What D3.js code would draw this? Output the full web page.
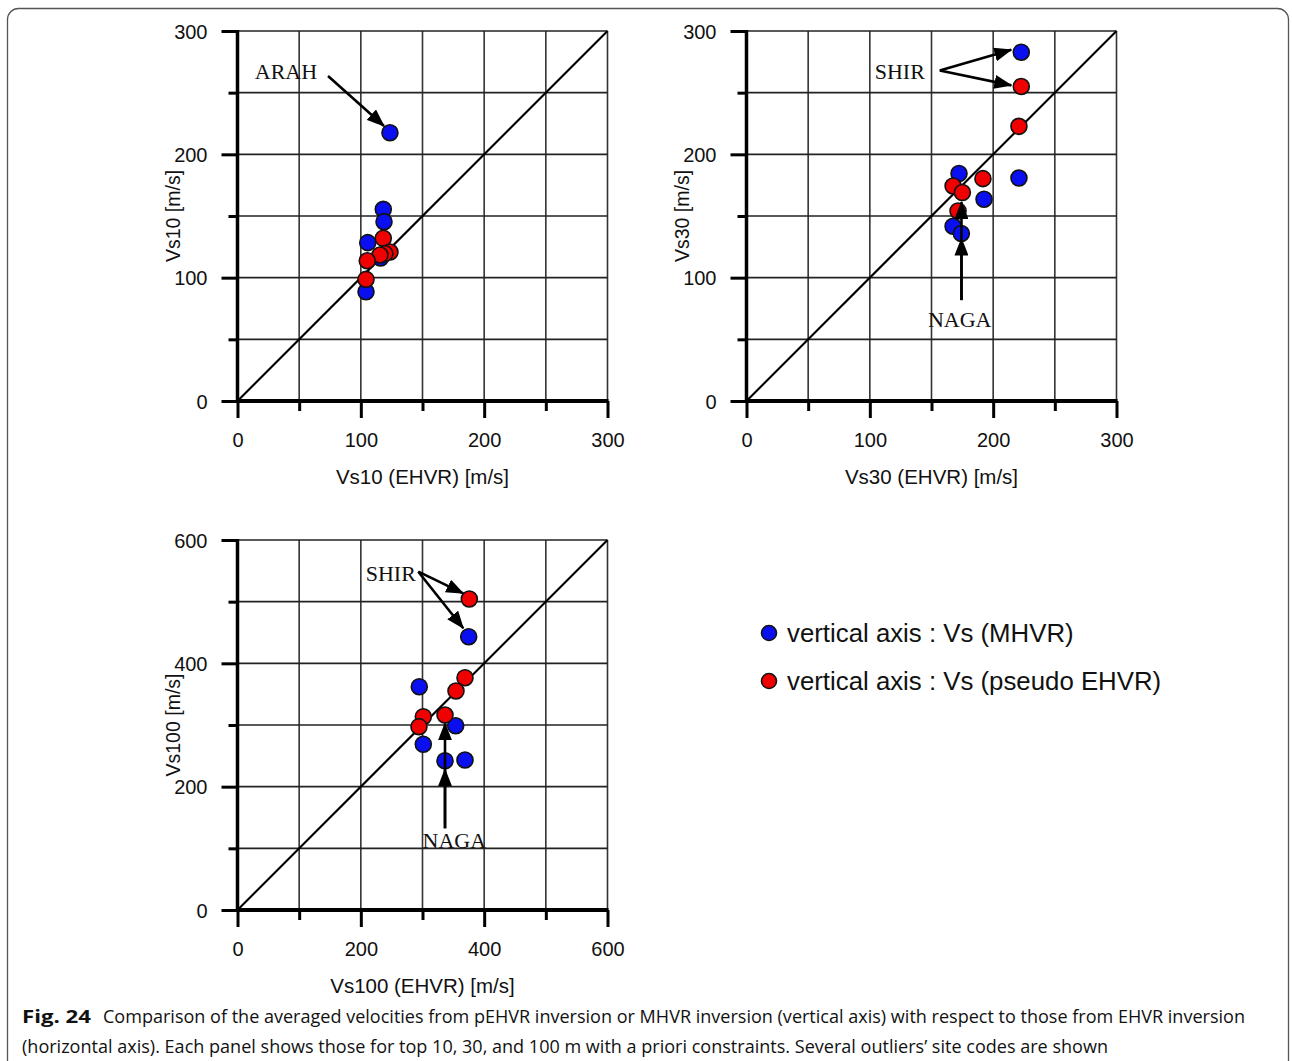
<!DOCTYPE html>
<html>
<head>
<meta charset="utf-8">
<script src="https://cdn.jsdelivr.net/npm/d3@7"></script>
<style>
  body { margin: 0; background: #fff; }
  text { fill: #111; }
</style>
</head>
<body>
<svg id="fig" width="1292" height="1061"></svg>
<script>
// values, pairs are [Vs from EHVR, Vs on vertical axis]
var vs10Mhvr   = [[123.6, 217.5], [118.2, 155.4], [118.8, 145.4], [105.6, 128.4], [116.0, 116.0], [104.2, 88.6]];
var vs10Pehvr  = [[118.2, 131.9], [123.6, 120.8], [119.5, 119.5], [115.5, 118.4], [105.2, 113.7], [104.2, 98.6]];
var vs30Mhvr   = [[222.8, 282.8], [220.9, 180.8], [172.3, 184.4], [192.6, 163.6], [167.5, 141.7], [174.2, 135.8]];
var vs30Pehvr  = [[222.8, 255.0], [220.9, 222.7], [191.7, 180.3], [167.5, 174.3], [175.0, 169.0], [171.5, 154.1]];
var vs100Mhvr  = [[374.9, 443.2], [294.8, 362.1], [353.8, 298.9], [301.3, 268.7], [336.5, 242.1], [368.9, 243.2]];
var vs100Pehvr = [[375.9, 504.3], [368.9, 376.7], [354.3, 355.1], [301.3, 313.5], [294.3, 297.3], [336.5, 316.2]];

// site code call-outs: label position, arrow start, arrow tips (data units)
var vs10Notes  = [{text: "ARAH", at: [39.3, 261], from: [73.4, 263.5], tips: [[118.8, 223]]}];
var vs30Notes  = [{text: "SHIR", at: [124.3, 261.3], from: [156.7, 268], tips: [[214.7, 284.8], [214.7, 255.9]]},
                  {text: "NAGA", at: [172.9, 60.2], from: [174.3, 81.8], tips: [[174.3, 131.7], [174.3, 161.4]]}];
var vs100Notes = [{text: "SHIR", at: [248.6, 534], from: [293.2, 548.6], tips: [[366.1, 513.5], [366.1, 456.8]]},
                  {text: "NAGA", at: [351.6, 100], from: [336.5, 132.5], tips: [[336.5, 228.2], [336.5, 302.7]]}];

var legendLabels = ["vertical axis : Vs (MHVR)", "vertical axis : Vs (pseudo EHVR)"];
var legendColors = ["#0a0ff0", "#f00000"];

var svg = d3.select("#fig");
var sans = "'Liberation Sans', Arial, sans-serif";

// frame of the figure
svg.append("rect")
  .attr("x", 7.5).attr("y", 8.5)
  .attr("width", 1281).attr("height", 1100)
  .attr("rx", 11)
  .attr("fill", "none")
  .attr("stroke", "#555")
  .attr("stroke-width", 1.3);

svg.append("defs").append("marker")
  .attr("id", "head")
  .attr("markerUnits", "userSpaceOnUse")
  .attr("markerWidth", 18).attr("markerHeight", 14)
  .attr("refX", 17).attr("refY", 7)
  .attr("orient", "auto")
  .append("path")
  .attr("d", "M0,0 L18,7 L0,14 Z")
  .attr("fill", "#000");

function drawPanel(p) {
  var x = d3.scaleLinear().domain([0, p.max]).range([p.left, p.left + p.size]);
  var y = d3.scaleLinear().domain([0, p.max]).range([p.top + p.size, p.top]);
  var g = svg.append("g");
  var ticks = d3.range(0, p.max + 1, p.step);

  // grid
  g.selectAll(".gx").data(ticks.slice(1)).enter().append("line")
    .attr("x1", function(d) { return x(d); }).attr("x2", function(d) { return x(d); })
    .attr("y1", y(0)).attr("y2", y(p.max))
    .attr("stroke", "#333").attr("stroke-width", 1.6);
  g.selectAll(".gy").data(ticks.slice(1)).enter().append("line")
    .attr("y1", function(d) { return y(d); }).attr("y2", function(d) { return y(d); })
    .attr("x1", x(0)).attr("x2", x(p.max))
    .attr("stroke", "#222").attr("stroke-width", 1.6);

  // axes with long ticks on labelled values
  var xAxis = d3.axisBottom(x).tickValues(ticks).tickFormat("").tickSize(0);
  var gx = g.append("g").attr("transform", "translate(0," + y(0) + ")").call(xAxis);
  gx.select(".domain").remove();
  gx.selectAll(".tick").append("line")
    .attr("y2", function(d) { return d % p.labelStep === 0 ? 17 : 10; })
    .attr("stroke", "#000").attr("stroke-width", 3);
  gx.selectAll(".tick").filter(function(d) { return d % p.labelStep === 0; })
    .append("text")
    .attr("y", 46).attr("text-anchor", "middle")
    .attr("font-family", sans).attr("font-size", 20).attr("fill", "#111")
    .text(function(d) { return d; });

  var yAxis = d3.axisLeft(y).tickValues(ticks).tickFormat("").tickSize(0);
  var gy = g.append("g").attr("transform", "translate(" + x(0) + ",0)").call(yAxis);
  gy.select(".domain").remove();
  gy.selectAll(".tick").append("line")
    .attr("x2", function(d) { return d % p.labelStep === 0 ? -16 : -9; })
    .attr("stroke", "#000").attr("stroke-width", 3);
  gy.selectAll(".tick").filter(function(d) { return d % p.labelStep === 0; })
    .append("text")
    .attr("x", -30).attr("dy", "0.36em").attr("text-anchor", "end")
    .attr("font-family", sans).attr("font-size", 20).attr("fill", "#111")
    .text(function(d) { return d; });

  g.append("line")
    .attr("x1", x(0)).attr("x2", x(p.max) + 1).attr("y1", y(0)).attr("y2", y(0))
    .attr("stroke", "#000").attr("stroke-width", 4);
  g.append("line")
    .attr("x1", x(0)).attr("x2", x(0)).attr("y1", y(0) + 2).attr("y2", y(p.max) - 1)
    .attr("stroke", "#000").attr("stroke-width", 3.5);

  // titles
  g.append("text")
    .attr("x", x(p.max / 2)).attr("y", y(0) + 83)
    .attr("text-anchor", "middle")
    .attr("font-family", sans).attr("font-size", 20.5)
    .text(p.xTitle);
  g.append("text")
    .attr("transform", "translate(" + (x(0) - 65) + "," + y(p.max / 2) + ") rotate(-90)")
    .attr("dy", "0.36em").attr("text-anchor", "middle")
    .attr("font-family", sans).attr("font-size", 19.5)
    .text(p.yTitle);

  // 1:1 line
  g.append("line")
    .attr("x1", x(0)).attr("y1", y(0)).attr("x2", x(p.max)).attr("y2", y(p.max))
    .attr("stroke", "#000").attr("stroke-width", 2.2);

  // points
  [[p.mhvr, legendColors[0]], [p.pehvr, legendColors[1]]].forEach(function(s) {
    g.selectAll(null).data(s[0]).enter().append("circle")
      .attr("cx", function(d) { return x(d[0]); })
      .attr("cy", function(d) { return y(d[1]); })
      .attr("r", 8)
      .attr("fill", s[1])
      .attr("stroke", "#111").attr("stroke-width", 1.6);
  });

  // call-outs
  p.notes.forEach(function(n) {
    g.append("text")
      .attr("x", x(n.at[0])).attr("y", y(n.at[1]))
      .attr("text-anchor", "middle")
      .attr("font-family", "'Liberation Serif', 'Times New Roman', serif")
      .attr("font-size", 22)
      .text(n.text);
    n.tips.forEach(function(t) {
      g.append("line")
        .attr("x1", x(n.from[0])).attr("y1", y(n.from[1]))
        .attr("x2", x(t[0])).attr("y2", y(t[1]))
        .attr("stroke", "#000").attr("stroke-width", 2.6)
        .attr("marker-end", "url(#head)");
    });
  });
}

drawPanel({left: 237.5, top: 31, size: 370, max: 300, step: 50, labelStep: 100,
  xTitle: "Vs10 (EHVR) [m/s]", yTitle: "Vs10 [m/s]",
  mhvr: vs10Mhvr, pehvr: vs10Pehvr, notes: vs10Notes});
drawPanel({left: 746.5, top: 31, size: 370, max: 300, step: 50, labelStep: 100,
  xTitle: "Vs30 (EHVR) [m/s]", yTitle: "Vs30 [m/s]",
  mhvr: vs30Mhvr, pehvr: vs30Pehvr, notes: vs30Notes});
drawPanel({left: 237.5, top: 540, size: 370, max: 600, step: 100, labelStep: 200,
  xTitle: "Vs100 (EHVR) [m/s]", yTitle: "Vs100 [m/s]",
  mhvr: vs100Mhvr, pehvr: vs100Pehvr, notes: vs100Notes});

// legend
var leg = svg.append("g").selectAll("g").data(legendLabels).enter().append("g")
  .attr("transform", function(d, i) { return "translate(769," + (633 + i * 48) + ")"; });
leg.append("circle")
  .attr("r", 7.5)
  .attr("fill", function(d, i) { return legendColors[i]; })
  .attr("stroke", "#111").attr("stroke-width", 1.6);
leg.append("text")
  .attr("x", 18).attr("dy", "0.36em")
  .attr("font-family", sans).attr("font-size", 25.8)
  .text(function(d) { return d; });

// caption
var cap = "'Open Sans', 'Noto Sans', sans-serif";
svg.append("text")
  .attr("x", 22).attr("y", 1023)
  .attr("font-family", cap).attr("font-size", 18).attr("font-weight", "bold")
  .attr("textLength", 69).attr("lengthAdjust", "spacingAndGlyphs")
  .text("Fig. 24");
svg.append("text")
  .attr("x", 103).attr("y", 1023)
  .attr("font-family", cap).attr("font-size", 18).attr("fill", "#222")
  .attr("textLength", 1142).attr("lengthAdjust", "spacingAndGlyphs")
  .text("Comparison of the averaged velocities from pEHVR inversion or MHVR inversion (vertical axis) with respect to those from EHVR inversion");
svg.append("text")
  .attr("x", 22).attr("y", 1053)
  .attr("font-family", cap).attr("font-size", 18).attr("fill", "#222")
  .attr("textLength", 1086).attr("lengthAdjust", "spacingAndGlyphs")
  .text("(horizontal axis). Each panel shows those for top 10, 30, and 100 m with a priori constraints. Several outliers\u2019 site codes are shown");
</script>
</body>
</html>
